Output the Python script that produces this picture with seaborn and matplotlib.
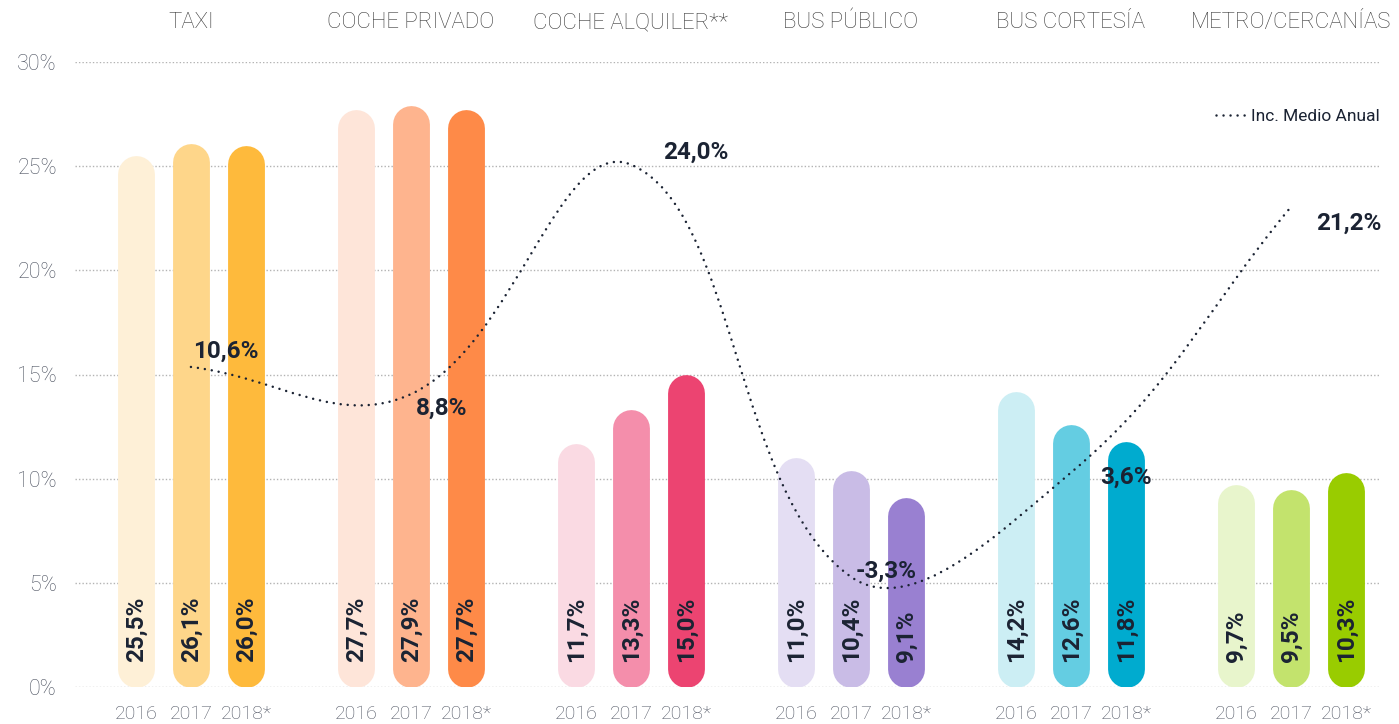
import numpy as np
import pandas as pd
import seaborn as sns
import matplotlib.pyplot as plt
import matplotlib.transforms as mtransforms
from matplotlib.patches import PathPatch
from matplotlib.path import Path
from matplotlib.lines import Line2D

# --- data -------------------------------------------------------------
categories = ["TAXI", "COCHE PRIVADO", "COCHE ALQUILER**", "BUS PÚBLICO",
              "BUS CORTESÍA", "METRO/CERCANÍAS"]
years = ["2016", "2017", "2018*"]
share_2016 = [25.5, 27.7, 11.7, 11.0, 14.2, 9.7]
share_2017 = [26.1, 27.9, 13.3, 10.4, 12.6, 9.5]
share_2018 = [26.0, 27.7, 15.0, 9.1, 11.8, 10.3]
inc_medio_anual = [10.6, 8.8, 24.0, -3.3, 3.6, 21.2]
y_ticks = [0, 5, 10, 15, 20, 25, 30]

# --- styling ----------------------------------------------------------
bar_colors = {
    "TAXI": ["#FEF0D7", "#FED68A", "#FEBA3C"],
    "COCHE PRIVADO": ["#FEE5D9", "#FEB48E", "#FE8A48"],
    "COCHE ALQUILER**": ["#FADAE3", "#F48EAB", "#EC4471"],
    "BUS PÚBLICO": ["#E4DEF3", "#C9BCE6", "#9980D1"],
    "BUS CORTESÍA": ["#CCEEF4", "#64CDE2", "#00ABCF"],
    "METRO/CERCANÍAS": ["#E8F5CC", "#C3E36D", "#99CC00"],
}
ink = "#1b2333"
label_offsets = [(25, 11), (22, -10), (47, 9), (25, 4), (40, -3), (42, -12)]
dots = (0, (0.01, 2.8))

sns.set_theme(style="white")
plt.rcParams["font.family"] = ["Roboto", "DejaVu Sans"]

df = pd.concat(
    [pd.DataFrame({"categoria": categories, "año": y, "cuota": v})
     for y, v in zip(years, [share_2016, share_2017, share_2018])],
    ignore_index=True,
)

W, H = 1399, 724
fig = plt.figure(figsize=(W / 100, H / 100), dpi=100)
rect = [75 / W, 37 / H, 1305 / W, 625 / H]
ax = fig.add_axes(rect)

sns.barplot(data=df, x="categoria", y="cuota", hue="año", order=categories,
            hue_order=years, width=0.75, gap=0.33, saturation=1,
            legend=False, ax=ax)
ax.set_xlim(-0.527, 5.405)
ax.set_ylim(0, 30)

# pixel size of one data unit, used to give the bars semicircular ends
p0 = ax.transData.transform((0, 0))
p1 = ax.transData.transform((1, 1))
px_x, px_y = p1[0] - p0[0], p1[1] - p0[1]

centers = []
for hi, cont in enumerate(ax.containers):
    for bar in cont:
        w = bar.get_width()
        h = bar.get_height()
        xc = bar.get_x() + w / 2
        ci = int(round(xc))
        bar.set_visible(False)
        w_px = w * px_x
        r = (w_px / 2) / px_y
        ax.plot([xc, xc], [r, h - r], lw=w_px * 72 / 100,
                solid_capstyle="round", color=bar_colors[categories[ci]][hi],
                zorder=2)
        ax.text(xc, 1.2, f"{h:.1f}".replace(".", ",") + "%", rotation=90,
                rotation_mode="anchor", ha="left", va="center",
                fontsize=17.5, fontweight="bold", color=ink, zorder=3)
        centers.append(xc)

centers = sorted(centers)
ax.set_xticks(centers, labels=years * len(categories))
ax.set_yticks(y_ticks, labels=[f"{v}%" for v in y_ticks])
ax.tick_params(axis="x", length=0, pad=13, labelsize=14, labelcolor="#4d5361")
ax.tick_params(axis="y", length=0, pad=13, labelsize=15.5, labelcolor="#4d5361")
for lab in ax.get_xticklabels() + ax.get_yticklabels():
    lab.set_fontweight("light")
ax.set_xlabel("")
ax.set_ylabel("")
ax.set_axisbelow(True)
ax.yaxis.grid(True, linestyle=(0, (1, 1.5)), color="#b3b3b3", lw=1)
ax.xaxis.grid(False)
sns.despine(ax=ax, left=True, bottom=True)
ax.set_xlim(-0.527, 5.405)
ax.set_ylim(0, 30)

# group titles above the plot
top = mtransforms.blended_transform_factory(ax.transData, ax.transAxes)
for i, c in enumerate(categories):
    ax.text(i, 1.063, c, transform=top, ha="center", va="center",
            fontsize=16, fontweight="light", color="#3a3a3a")

# --- average annual growth line on a secondary scale ---------------------
ax2 = ax.twinx()
ax2.set_ylim(-10.6, 30.8)
ax2.axis("off")

lx = np.arange(len(categories))
pts = ax2.transData.transform(np.column_stack([lx, inc_medio_anual]))
tension = 0.4
n = len(pts)
cp_in, cp_out = [], []
for i in range(n):
    prv, cur, nxt = pts[max(i - 1, 0)], pts[i], pts[min(i + 1, n - 1)]
    d01 = np.hypot(*(cur - prv))
    d12 = np.hypot(*(nxt - cur))
    tot = d01 + d12
    cp_in.append(cur - tension * d01 / tot * (nxt - prv))
    cp_out.append(cur + tension * d12 / tot * (nxt - prv))
verts = [pts[0]]
codes = [Path.MOVETO]
for i in range(n - 1):
    verts += [cp_out[i], cp_in[i + 1], pts[i + 1]]
    codes += [Path.CURVE4] * 3
curve = ax2.transData.inverted().transform_path(Path(np.array(verts), codes))
ax2.add_patch(PathPatch(curve, fill=False, ec=ink, lw=1.8, linestyle=dots,
                        capstyle="round", transform=ax2.transData, zorder=4))

for i, (v, off) in enumerate(zip(inc_medio_anual, label_offsets)):
    ax2.annotate(f"{v:.1f}".replace(".", ",") + "%", (i, v), xytext=off,
                 textcoords="offset points", ha="center", va="center",
                 fontsize=17.5, fontweight="bold", color=ink, zorder=5)

handle = Line2D([], [], color=ink, lw=1.8, linestyle=dots,
                dash_capstyle="round")
ax2.legend([handle], ["Inc. Medio Anual"], loc="center right",
           bbox_to_anchor=(1.0, 0.9136), frameon=False, fontsize=12.5,
           handlelength=1.75, handletextpad=0.3, borderaxespad=0,
           borderpad=0, labelcolor=ink)

fig.savefig("out.png", dpi=100)
